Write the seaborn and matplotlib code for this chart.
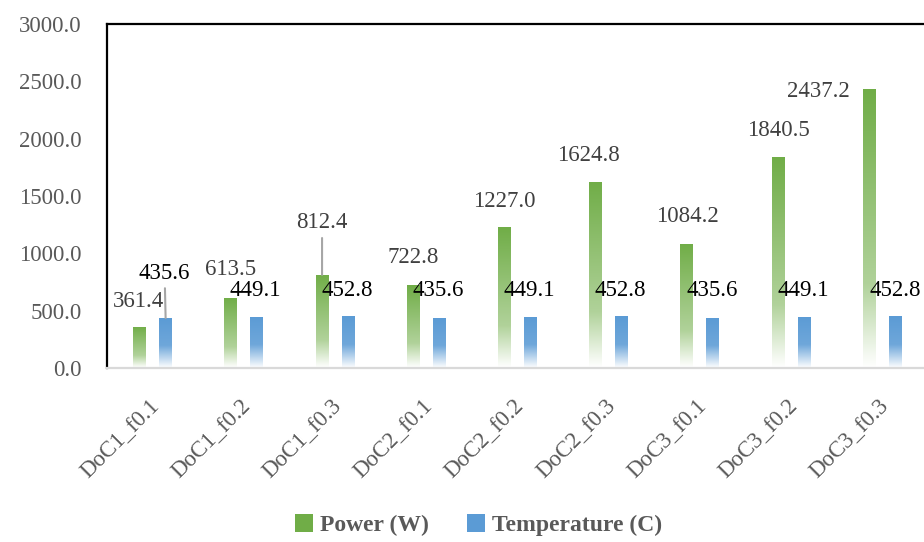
import numpy as np
import pandas as pd
import seaborn as sns
import matplotlib.pyplot as plt
import matplotlib.colors as mcolors
from matplotlib.patches import Patch
from matplotlib.transforms import ScaledTranslation

# chart data
categories = ['DoC1_f0.1', 'DoC1_f0.2', 'DoC1_f0.3',
              'DoC2_f0.1', 'DoC2_f0.2', 'DoC2_f0.3',
              'DoC3_f0.1', 'DoC3_f0.2', 'DoC3_f0.3']
power = [361.4, 613.5, 812.4, 722.8, 1227.0, 1624.8, 1084.2, 1840.5, 2437.2]
temperature = [435.6, 449.1, 452.8, 435.6, 449.1, 452.8, 435.6, 449.1, 452.8]
series_names = ['Power (W)', 'Temperature (C)']
colors = ['#70AD47', '#5B9BD5']

# label offsets (pixels, from bar top) - placed by hand in the original
power_off = [(-1, 25), (0, 28), (0, 52), (0, 28), (0, 26), (-7, 26), (0, 27), (0, 26), (-51, -3)]
temp_off = [(-1, 45), (-2, 26), (-1, 26), (-1, 28), (-1, 26), (-1, 26), (-1, 28), (-1, 26), (0, 26)]
leader_power = [2]
leader_temp = [0]

df = pd.DataFrame({
    'cat': categories * 2,
    'value': power + temperature,
    'series': [series_names[0]] * len(power) + [series_names[1]] * len(temperature),
})

sns.set_style('white')
plt.rcParams['font.family'] = ['Liberation Serif', 'DejaVu Serif']

fig = plt.figure(figsize=(9.24, 5.42), dpi=100)
ax = fig.add_axes([107 / 924, 174 / 542, 821 / 924, 344 / 542])

sns.barplot(data=df, x='cat', y='value', hue='series', palette=colors,
            width=0.57, gap=0.5, ax=ax, legend=False, errorbar=None)


def gradient_fill(ax, bar, base, t_stops, mix_stops):
    x0, y0 = bar.get_x(), bar.get_y()
    w, h = bar.get_width(), bar.get_height()
    t = np.linspace(0, 1, 256)
    mix = np.interp(t, t_stops, mix_stops)
    rgb = np.array(mcolors.to_rgb(base))
    img = rgb[None, :] * (1 - mix[:, None]) + mix[:, None]
    im = ax.imshow(img[:, None, :], extent=[x0, x0 + w, y0, y0 + h],
                   origin='upper', aspect='auto', zorder=2, interpolation='bilinear')
    im.set_clip_path(bar)
    bar.set_facecolor('none')
    bar.set_edgecolor('none')


grad = [([0, 0.7, 0.95, 1], [0, 0.45, 0.92, 1]),
        ([0, 0.55, 0.9, 1], [0, 0.12, 0.8, 1])]
for cont, col, (ts, ms) in zip(ax.containers, colors, grad):
    for bar in cont:
        gradient_fill(ax, bar, col, ts, ms)

# data labels
for i, bar in enumerate(ax.containers[0]):
    cx = bar.get_x() + bar.get_width() / 2
    arrow = dict(arrowstyle='-', color='#A6A6A6', lw=1.5, shrinkA=1, shrinkB=0) if i in leader_power else None
    ax.annotate(f'{power[i]:.1f}', xy=(cx, power[i]), xytext=power_off[i],
                textcoords='offset pixels', ha='center', va='center',
                fontsize=16.5, color='#404040', arrowprops=arrow, zorder=5)
for i, bar in enumerate(ax.containers[1]):
    cx = bar.get_x() + bar.get_width() / 2
    arrow = dict(arrowstyle='-', color='#A6A6A6', lw=1.5, shrinkA=1, shrinkB=0) if i in leader_temp else None
    ax.annotate(f'{temperature[i]:.1f}', xy=(cx, temperature[i]), xytext=temp_off[i],
                textcoords='offset pixels', ha='center', va='center',
                fontsize=16.5, color='black', arrowprops=arrow, zorder=5)

ax.set_xlim(-0.5, len(categories) - 0.5)
ax.set_ylim(0, 3000)
ax.set_yticks(np.arange(0, 3001, 500))
ax.set_yticklabels([f'{v:.1f}' for v in np.arange(0, 3001, 500)])
ax.set_xlabel('')
ax.set_ylabel('')
ax.tick_params(axis='y', length=0, pad=18, labelsize=16.5, labelcolor='#595959')
ax.tick_params(axis='x', length=0, pad=20, labelsize=16.5, labelcolor='#595959')
shift = ScaledTranslation(-4 / 100, 0, fig.dpi_scale_trans)
for lab in ax.get_xticklabels():
    lab.set_rotation(45)
    lab.set_ha('right')
    lab.set_va('top')
    lab.set_rotation_mode('anchor')
    lab.set_transform(lab.get_transform() + shift)

for side in ['left', 'top']:
    ax.spines[side].set_color('black')
    ax.spines[side].set_linewidth(1.6)
ax.spines['bottom'].set_color('#D9D9D9')
ax.spines['bottom'].set_linewidth(1.6)
ax.spines['right'].set_visible(False)

handles = [Patch(facecolor=c, edgecolor='none') for c in colors]
leg = fig.legend(handles, series_names, loc='center', bbox_to_anchor=(0.518, 0.031),
                 ncol=2, frameon=False, handlelength=0.75, handleheight=0.75,
                 handletextpad=0.3, columnspacing=1.6,
                 prop={'size': 17, 'weight': 'bold'})
for txt in leg.get_texts():
    txt.set_color('#595959')

fig.savefig('out.png', dpi=100)
